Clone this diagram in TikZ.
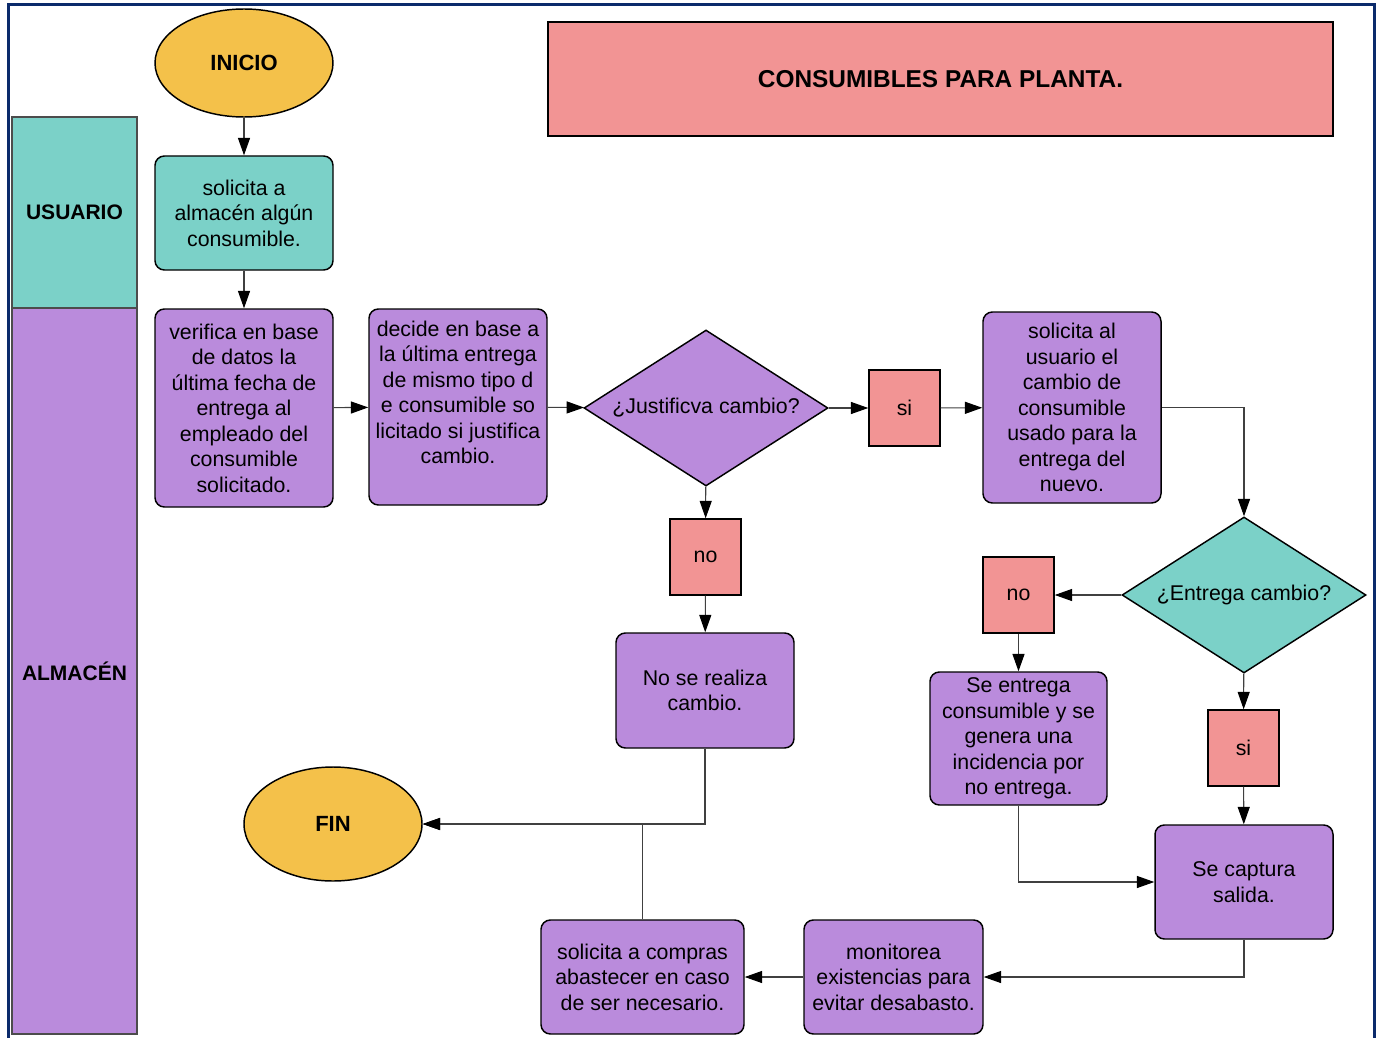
\documentclass[tikz,border=0pt]{standalone}
\usepackage{fontspec}
\setmainfont{Liberation Sans}
\usepackage{tikz}
\usetikzlibrary{shapes,arrows.meta,positioning}

\definecolor{Teal}{HTML}{7BD1C8}
\definecolor{Lila}{HTML}{BA8BDC}
\definecolor{Salmon}{HTML}{F29494}
\definecolor{Gold}{HTML}{F4C14A}
\definecolor{Navy}{HTML}{0B2A6B}

\begin{document}
\begin{tikzpicture}[x=0.75pt, y=-0.75pt]
			\tikzstyle{Lane}	= [rectangle, draw=black!70, line width=0.8pt, inner sep=0pt, font=\fontsize{15.75}{18}\selectfont\bfseries]
			\tikzstyle{Txt}		= [align=center, font=\fontsize{16}{19.1}\selectfont]
			\tikzstyle{Proc}	= [rectangle, rounded corners=7pt, draw, line width=1.1pt, inner sep=0pt, Txt]
			\tikzstyle{Term}	= [ellipse, draw, line width=1.1pt, fill=Gold, inner sep=0pt, minimum width=133.5pt, font=\fontsize{16.5}{19}\selectfont\bfseries]
			\tikzstyle{Ans}		= [rectangle, draw, line width=1.1pt, fill=Salmon, minimum width=53.25pt, minimum height=57pt, inner sep=0pt, font=\fontsize{16}{19}\selectfont]
			\tikzstyle{Ask}		= [diamond, draw, line width=1.1pt, minimum width=183pt, minimum height=117pt, inner sep=0pt]
			\tikzstyle{USR}		= [fill=Teal]
			\tikzstyle{ALM}		= [fill=Lila]
			\tikzstyle{Flow}	= [black!75, line width=0.8pt, -{Triangle[length=13pt, width=9pt, black]}]

			\useasboundingbox (0,0) rectangle (1377,1038);
			\draw [Navy, line width=2.25pt] (8,1045) -- (8,5) -- (1374,5) -- (1374,1045);

			% carriles
			\node (usuario) at (74.5,212.5) [Lane][USR, minimum width=93.75pt, minimum height=143.25pt] {USUARIO};
			\node (almacen) at (74.5,671) [Lane][ALM, minimum width=93.75pt, minimum height=544.5pt] {ALMACÉN};

			\node (titulo) at (940.5,79) [rectangle, draw, line width=1.1pt, fill=Salmon, minimum width=588.75pt, minimum height=85.5pt, font=\fontsize{18.3}{21}\selectfont\bfseries] {CONSUMIBLES PARA PLANTA.};

			\node (inicio) at (244,63) [Term][minimum height=81pt] {INICIO};
			\node (solicita) at (244,213) [Proc][USR, minimum width=133.5pt, minimum height=85.5pt] {solicita a\\almacén algún\\consumible.};
			\node (verifica) at (244,408) [Proc][ALM, minimum width=133.5pt, minimum height=148.5pt] {verifica en base\\de datos la\\última fecha de\\entrega al\\empleado del\\consumible\\solicitado.};
			\node (decide) at (458,407) [Proc][ALM, minimum width=133.5pt, minimum height=147pt,
				label={[Txt, yshift=11pt]center:decide en base a\\la última entrega\\de mismo tipo d\\e consumible so\\licitado si justifica\\cambio.}] {};
			\node (justifica) at (706,408) [Ask][ALM, label={[Txt]center:¿Justificva cambio?}] {};
			\node (si1) at (904.5,408) [Ans] {si};
			\node (no1) at (705.5,557) [Ans] {no};
			\node (norealiza) at (705,690.5) [Proc][ALM, minimum width=133.5pt, minimum height=86.25pt] {No se realiza\\cambio.};
			\node (pideusr) at (1072,407.5) [Proc][ALM, minimum width=133.5pt, minimum height=143.25pt] {solicita al\\usuario el\\cambio de\\consumible\\usado para la\\entrega del\\nuevo.};
			\node (entrega) at (1244,595) [Ask][USR, label={[Txt]center:¿Entrega cambio?}] {};
			\node (no2) at (1018.5,595) [Ans] {no};
			\node (si2) at (1243.5,748) [Ans] {si};
			\node (incidencia) at (1018.5,738.5) [Proc][ALM, minimum width=132.75pt, minimum height=99.75pt] {Se entrega\\consumible y se\\genera una\\incidencia por\\no entrega.};
			\node (captura) at (1244,882) [Proc][ALM, minimum width=133.5pt, minimum height=85.5pt] {Se captura\\salida.};
			\node (monitorea) at (893.5,977) [Proc][ALM, minimum width=134.25pt, minimum height=85.5pt] {monitorea\\existencias para\\evitar desabasto.};
			\node (compras) at (642.5,977) [Proc][ALM, minimum width=152.25pt, minimum height=85.5pt] {solicita a compras\\abastecer en caso\\de ser necesario.};
			\node (fin) at (333,824) [Term][minimum height=85.5pt] {FIN};

			\draw (inicio) -- (solicita) [Flow];
			\draw (solicita) -- (verifica) [Flow];
			\draw (verifica) -- (decide) [Flow];
			\draw (decide) -- (justifica) [Flow];
			\draw (justifica) -- (si1) [Flow];
			\draw (si1) -- (pideusr) [Flow];
			\draw (justifica) -- (no1) [Flow];
			\draw (no1) -- (norealiza) [Flow];
			\draw (pideusr.east) -| (entrega.north) [Flow];
			\draw (entrega) -- (no2) [Flow];
			\draw (no2) -- (incidencia) [Flow];
			\draw (entrega) -- (si2) [Flow];
			\draw (si2) -- (captura) [Flow];
			\draw (incidencia.south) |- (captura.west) [Flow];
			\draw (captura.south) |- (monitorea.east) [Flow];
			\draw (monitorea) -- (compras) [Flow];
			\draw (compras.north) |- (fin.east) [Flow];
			\draw (norealiza.south) |- (fin.east) [Flow];
		\end{tikzpicture}
\end{document}
